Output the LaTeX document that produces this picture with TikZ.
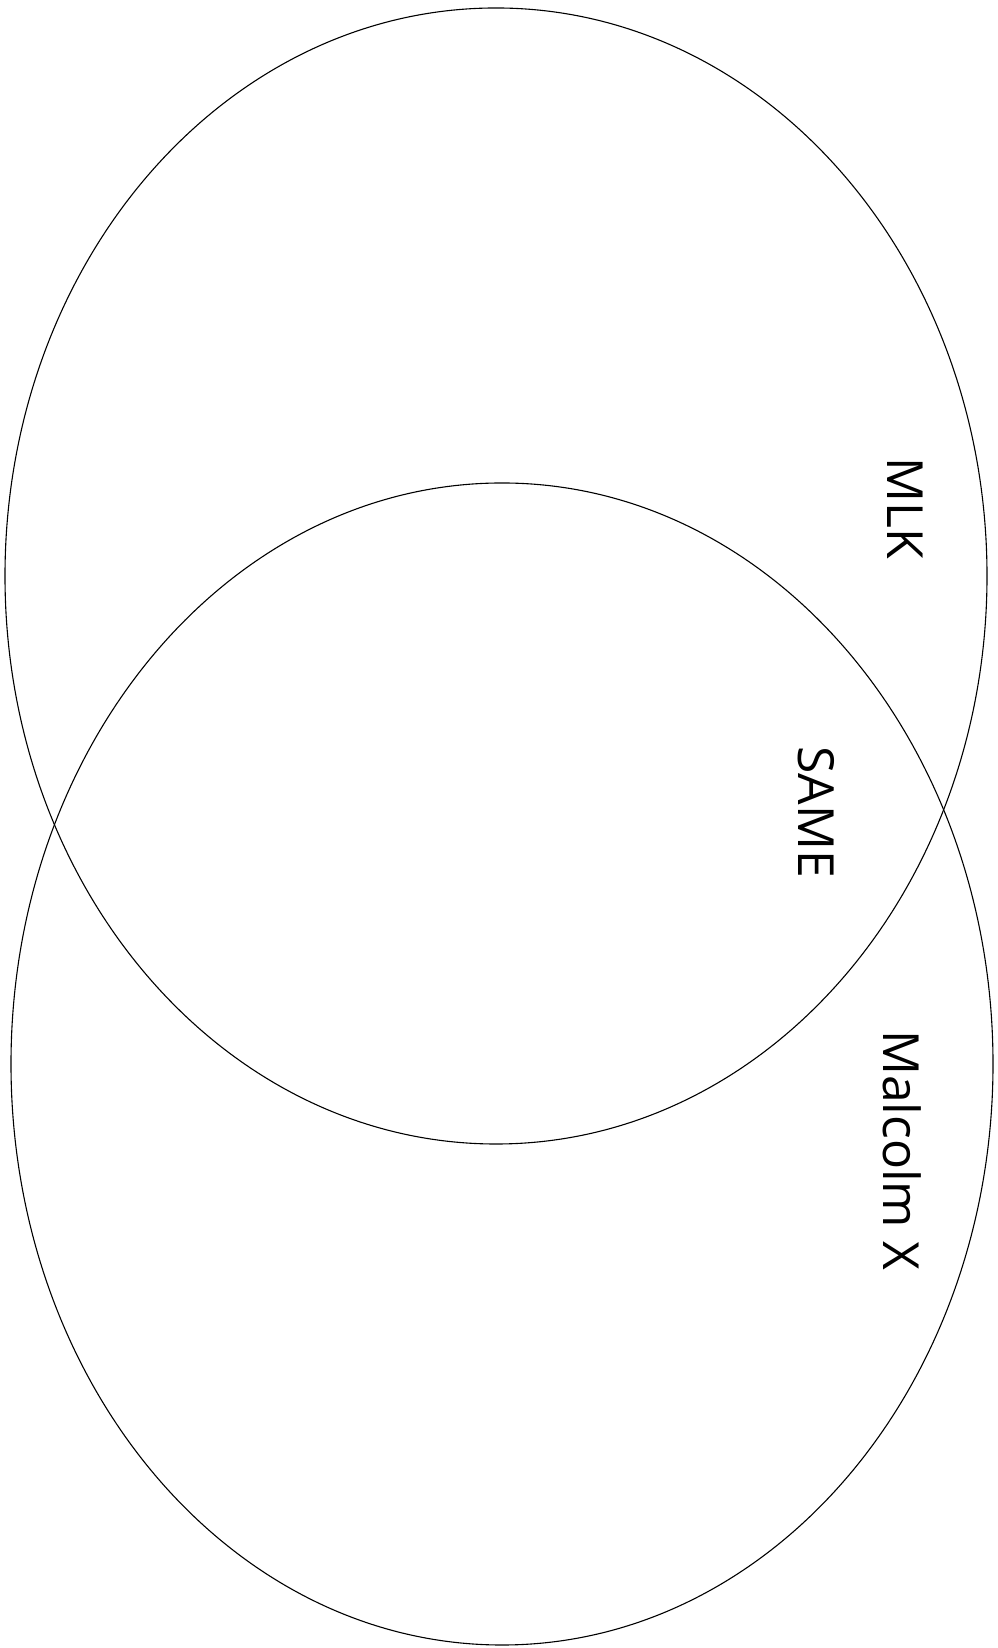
\documentclass[tikz,border=0pt]{standalone}
\usepackage{fontspec}
\setmainfont{Open Sans}
\usepackage{tikz}

\begin{document}
\begin{tikzpicture}[x=1bp,y=1bp,line width=1.1bp]
\tikzset{lbl/.style={rotate=-90,inner sep=0pt,font=\fontsize{50}{60}\selectfont}}
\useasboundingbox (0,0) rectangle (997,1648);
% upper set, MLK
\draw (496,1072) ellipse [x radius=491bp, y radius=568bp];
% lower set, Malcolm X
\draw (502,584) ellipse [x radius=491bp, y radius=581bp];
% labels
\node[lbl] (mlk) at (905,1140) {MLK};
\node[lbl] (same) at (816,836) {SAME};
\node[lbl] (malcolm) at (902,498) {Malcolm X};
\end{tikzpicture}
\end{document}
